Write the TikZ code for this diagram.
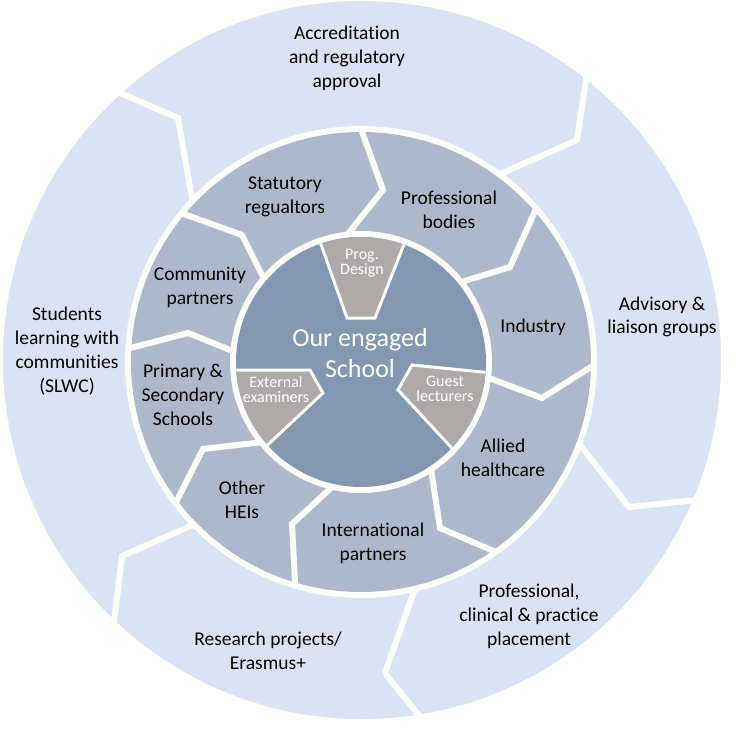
\documentclass[tikz,border=0pt]{standalone}
\usepackage{fontspec}
\setmainfont{Carlito}[Ligatures=NoCommon]
\definecolor{outerc}{HTML}{DAE3F3}
\definecolor{innerc}{HTML}{ADB9CA}
\definecolor{corec}{HTML}{8497B0}
\definecolor{greyc}{HTML}{AEAAAA}
\begin{document}
\begin{tikzpicture}[x=1pt,y=-1pt,
  gapline/.style={draw=white, line width=6pt, line join=miter},
  wedge/.style={fill=greyc, draw=white, line width=3pt, line join=miter},
  lbl/.style={align=center, font=\fontsize{19.5}{23.8}\selectfont, text=black, inner sep=0pt},
  corelbl/.style={align=center, font=\fontsize{26}{31.5}\selectfont, text=white, inner sep=0pt},
  smalllbl/.style={align=center, font=\fontsize{16}{15}\selectfont, text=white, inner sep=0pt}]
\useasboundingbox (0,0) rectangle (740,753);
\fill[white] (0,0) rectangle (740,753);
% outer ring
\fill[outerc] (362,360) circle[radius=359pt];
\draw[gapline] (196,222) -- (178,118) -- (60,67);
\draw[gapline] (480,183) -- (577,140) -- (595,20);
\draw[gapline] (568,430) -- (629,507) -- (735,496);
\draw[gapline] (418,580) -- (385,673) -- (440,742);
\draw[gapline] (200,522) -- (122,556) -- (108,672);
% inner ring
\fill[white] (361,362) circle[radius=236pt];
\fill[innerc] (361,362) circle[radius=230pt];
\begin{scope}
  \clip (361,362) circle[radius=233pt];
  \draw[gapline] (270,291) -- (242,235) -- (170,209);
  \draw[gapline] (331,255) -- (383,190) -- (357,118);
  \draw[gapline] (445,287) -- (510,267) -- (540,200);
  \draw[gapline] (460,367) -- (542,398) -- (605,358);
  \draw[gapline] (429,456) -- (440,528) -- (510,558);
  \draw[gapline] (345,475) -- (292,524) -- (296,600);
  \draw[gapline] (280,440) -- (203,449) -- (170,514);
  \draw[gapline] (250,358) -- (188,333) -- (115,352);
\end{scope}
% core
\fill[white] (361,362) circle[radius=131pt];
\fill[corec] (361,362) circle[radius=125pt];
\begin{scope}
  \clip (361,362) circle[radius=125pt];
  \filldraw[wedge] (312,219) -- (347,318) -- (375,318) -- (414,219) -- cycle;
  \filldraw[wedge] (215,370) -- (310,370) -- (323,393) -- (258,454) -- cycle;
  \filldraw[wedge] (412,365) -- (502,374) -- (462,459) -- (398,390) -- cycle;
\end{scope}
% labels outer
\node[lbl] (acc) at (347,58) {Accreditation\\and regulatory\\approval};
\node[lbl] (adv) at (662,317) {Advisory \&\\liaison groups};
\node[lbl] (pcp) at (529,616) {Professional,\\clinical \& practice\\placement};
\node[lbl] (res) at (268,651) {Research projects/\\Erasmus+};
\node[lbl] (slwc) at (67,351) {Students\\learning with\\communities\\(SLWC)};
% labels inner
\node[lbl] (stat) at (285,197) {Statutory\\regualtors};
\node[lbl] (prof) at (449,210) {Professional\\bodies};
\node[lbl] (ind) at (533,327) {Industry};
\node[lbl] (all) at (503,458) {Allied\\healthcare};
\node[lbl] (intl) at (373,543) {International\\partners};
\node[lbl] (hei) at (242,500) {Other\\HEIs};
\node[lbl] (prim) at (183,395) {Primary \&\\Secondary\\Schools};
\node[lbl] (comm) at (200,287) {Community\\partners};
% core labels
\node[corelbl] (core) at (360,353) {Our engaged\\School};
\node[smalllbl] (prog) at (362,263) {Prog.\\Design};
\node[smalllbl] (ext) at (276,389) {External\\examiners};
\node[smalllbl] (guest) at (445,389) {Guest\\lecturers};
\end{tikzpicture}
\end{document}
